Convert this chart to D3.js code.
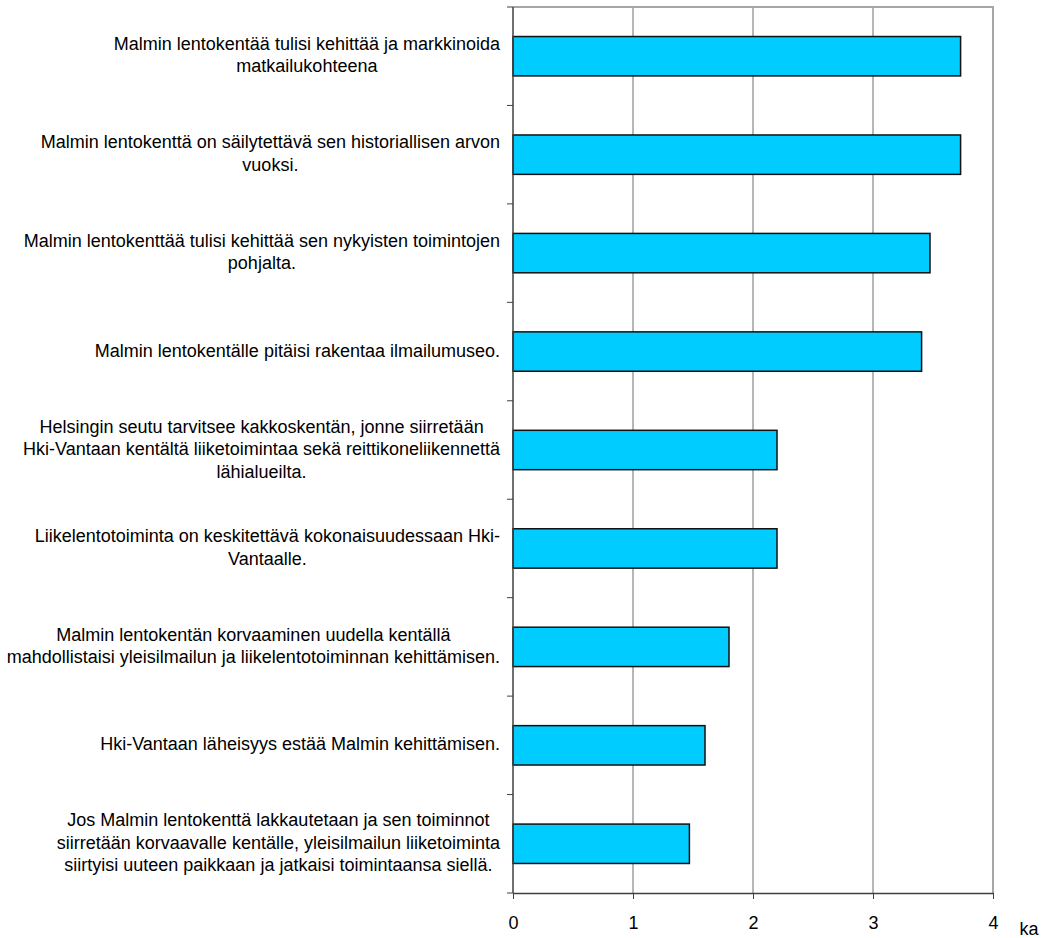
<html>
<head>
<meta charset="utf-8">
<script src="https://d3js.org/d3.v7.min.js"></script>
<style>
body { margin: 0; background: white; font-family: "Liberation Sans", Arial, sans-serif; }
</style>
</head>
<body>
<script>
// statements (label lines) and mean values (ka)
var labels = [
  ["Malmin lentokentää tulisi kehittää ja markkinoida", "matkailukohteena"],
  ["Malmin lentokenttä on säilytettävä sen historiallisen arvon", "vuoksi."],
  ["Malmin lentokenttää tulisi kehittää sen nykyisten toimintojen", "pohjalta."],
  ["Malmin lentokentälle pitäisi rakentaa ilmailumuseo."],
  ["Helsingin seutu tarvitsee kakkoskentän, jonne siirretään", "Hki-Vantaan kentältä liiketoimintaa sekä reittikoneliikennettä", "lähialueilta."],
  ["Liikelentotoiminta on keskitettävä kokonaisuudessaan Hki-", "Vantaalle."],
  ["Malmin lentokentän korvaaminen uudella kentällä", "mahdollistaisi yleisilmailun ja liikelentotoiminnan kehittämisen."],
  ["Hki-Vantaan läheisyys estää Malmin kehittämisen."],
  ["Jos Malmin lentokenttä lakkautetaan ja sen toiminnot", "siirretään korvaavalle kentälle, yleisilmailun liiketoiminta", "siirtyisi uuteen paikkaan ja jatkaisi toimintaansa siellä."]
];
var values = [3.73, 3.73, 3.475, 3.405, 2.2, 2.2, 1.8, 1.6, 1.47];
var xTicks = [0, 1, 2, 3, 4];
var axisTitle = "ka";

var width = 1046, height = 938;
var plotLeft = 513, plotRight = 993, plotTop = 7, plotBottom = 893;

var svg = d3.select("body").append("svg")
  .attr("width", width).attr("height", height);

var x = d3.scaleLinear().domain([0, 4]).range([plotLeft, plotRight]);
var y = d3.scaleBand().domain(d3.range(labels.length)).range([plotTop, plotBottom])
  .paddingInner(0.6).paddingOuter(0.3);
var yb = d3.scaleBand().domain(d3.range(labels.length)).range([plotTop, plotBottom]);

// grid lines
svg.append("g").selectAll("line")
  .data(xTicks.slice(1, -1))
  .enter().append("line")
  .attr("x1", d => x(d)).attr("x2", d => x(d))
  .attr("y1", plotTop).attr("y2", plotBottom)
  .attr("stroke", "#6e6e6e").attr("stroke-width", 1);

// top and right border
svg.append("path")
  .attr("d", "M" + plotLeft + "," + plotTop + "H" + plotRight + "V" + plotBottom)
  .attr("fill", "none").attr("stroke", "#a6a6a6").attr("stroke-width", 2);

// bars
svg.append("g").selectAll("rect")
  .data(values)
  .enter().append("rect")
  .attr("x", x(0))
  .attr("y", (d, i) => y(i))
  .attr("width", d => x(d) - x(0))
  .attr("height", y.bandwidth())
  .attr("fill", "#00ccff")
  .attr("stroke", "#111").attr("stroke-width", 1.5);

// left axis with ticks at band boundaries
var bounds = d3.range(labels.length + 1).map(i => i < labels.length ? yb(i) : plotBottom);
svg.append("line")
  .attr("x1", plotLeft).attr("x2", plotLeft).attr("y1", plotTop).attr("y2", plotBottom)
  .attr("stroke", "#404040").attr("stroke-width", 1.5);
svg.append("g").selectAll("line")
  .data(bounds)
  .enter().append("line")
  .attr("x1", plotLeft - 6).attr("x2", plotLeft)
  .attr("y1", d => d).attr("y2", d => d)
  .attr("stroke", "#404040").attr("stroke-width", 1);

// bottom axis
var xAxis = svg.append("g")
  .attr("transform", "translate(0," + plotBottom + ")")
  .call(d3.axisBottom(x).tickValues(xTicks).tickFormat(d3.format("d"))
    .tickSize(6).tickPadding(17).tickSizeOuter(0));
xAxis.select(".domain").attr("stroke", "#404040").attr("stroke-width", 1.5);
xAxis.selectAll(".tick line").attr("stroke", "#404040");
xAxis.selectAll("text").attr("font-size", "18px").attr("fill", "#000")
  .attr("font-family", "Liberation Sans, Arial, sans-serif");

svg.append("text")
  .attr("x", 1029).attr("y", 935)
  .attr("text-anchor", "middle")
  .attr("font-size", "18px")
  .text(axisTitle);

// category labels: block right-aligned, lines centred within block
var lh = 22.5;
var lab = svg.append("g").attr("font-size", "18px").attr("fill", "#000");
labels.forEach(function (lines, i) {
  var g = lab.append("g");
  var texts = lines.map(function (s, j) {
    return g.append("text")
      .attr("y", yb(i) + yb.bandwidth() / 2 + (j - (lines.length - 1) / 2) * lh + 5)
      .attr("text-anchor", "middle")
      .text(s);
  });
  var maxW = d3.max(texts, t => t.node().getComputedTextLength());
  texts.forEach(t => t.attr("x", 500 - maxW / 2));
});
</script>
</body>
</html>
